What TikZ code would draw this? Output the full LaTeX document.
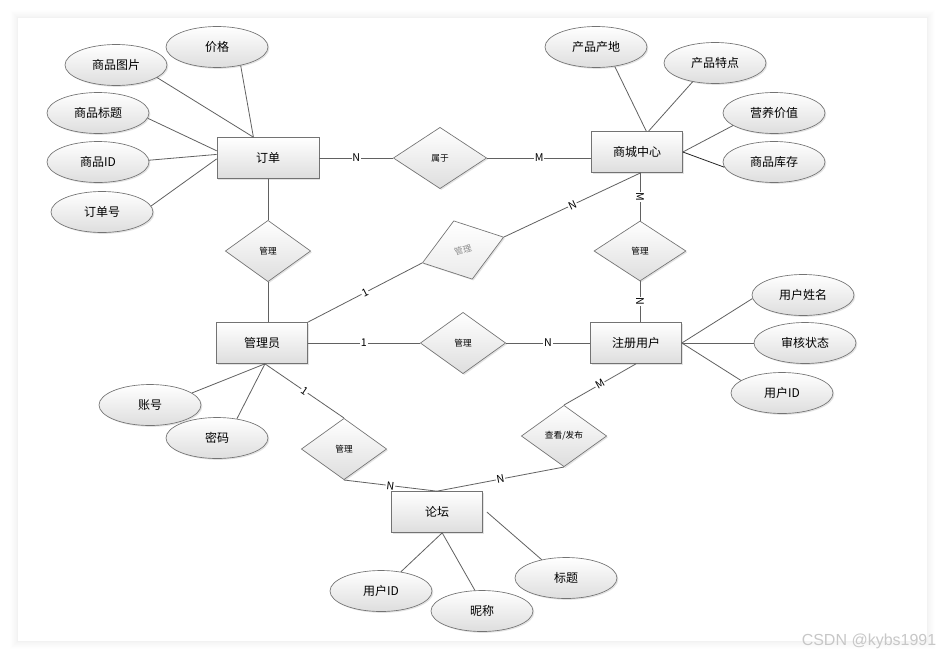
\documentclass[tikz,border=0pt]{standalone}
\usepackage{fontspec}
\setmainfont{Noto Sans CJK SC}
\newfontfamily\wmfont{Liberation Sans}
\usetikzlibrary{calc,shapes.geometric,shadows}

\begin{document}
\begin{tikzpicture}[x=0.75pt,y=-0.75pt,
  shade/.style={top color=white, bottom color=black!13, draw=black!55,
    line width=0.5pt,
    drop shadow={shadow xshift=1pt, shadow yshift=-1pt, opacity=0.22}},
  entity/.style={shade, rectangle, inner sep=0pt,
    minimum width=68.25pt, minimum height=30.75pt,
    font=\fontsize{9}{10}\selectfont},
  attr/.style={shade, ellipse, inner sep=0pt,
    minimum width=76.5pt, minimum height=30.75pt,
    font=\fontsize{9}{10}\selectfont},
  rel/.style={shade, diamond, inner sep=0pt,
    minimum width=64pt, minimum height=46pt,
    font=\fontsize{6.5}{7}\selectfont},
  link/.style={draw=black!62, line width=0.6pt},
  card/.style={fill=white, inner sep=0.6pt, sloped,
    font=\fontsize{8}{9}\selectfont}]

\useasboundingbox (0,0) rectangle (944,657);

% ------------------------------------------------------------------
% Sheet with a soft border
% ------------------------------------------------------------------
\foreach \i/\o in {1/0.05,2/0.04,3/0.033,4/0.026,5/0.02,6/0.014,7/0.009,8/0.005}{
  \draw[black, opacity=\o, line width=0.75pt]
    (18-\i,18-\i) rectangle (926+\i,640+\i);
}
\fill[white] (18,18) rectangle (926,640);

% ------------------------------------------------------------------
% Entities
% ------------------------------------------------------------------
\node[entity, minimum width=76.5pt] (order) at (268,158) {订单};
\node[entity] (mall)  at (637,152) {商城中心};
\node[entity] (admin) at (262,343) {管理员};
\node[entity] (user)  at (636,343) {注册用户};
\node[entity] (forum) at (437,512) {论坛};

% ------------------------------------------------------------------
% Relationships
% ------------------------------------------------------------------
\node[rel, minimum width=70pt] (shu) at (440,158) {属于};
\node[rel] (mg1) at (268,251) {管理};
\node[rel, rotate=17.6, bottom color=black!8, text=black!45] (mg2)
  at (463,250) {管理};
\node[rel, minimum width=69pt, minimum height=45pt] (mg3) at (640,251) {管理};
\node[rel] (mg4) at (463,343) {管理};
\node[rel] (mg5) at (344,449) {管理};
\node[rel] (pub) at (564,436) {查看/发布};

% ------------------------------------------------------------------
% Attributes: name/x/y/text
% ------------------------------------------------------------------
\foreach \n/\x/\y/\t in {price/217/47/价格, pic/116/65/商品图片,
    title/98/113/商品标题, gid/98/162/商品ID, ono/102/212/订单号,
    origin/596/47/产品产地, feat/715/63/产品特点,
    nutri/774/113/营养价值, stock/774/162/商品库存,
    uname/803/295/用户姓名, audit/805/343/审核状态, uid/782/393/用户ID,
    acc/150/405/账号, pwd/217/438/密码,
    fuid/381/591/用户ID, nick/482/611/昵称, ftitle/566/578/标题}{
  \node[attr] (\n) at (\x,\y) {\t};
}

% attribute links
\foreach \a/\b in {price.-38/order.125, pic.-17/order.125,
    title.-6/order.172, gid.2/order.176, ono.7/order.181,
    origin.-46/mall.66, feat.-140/mall.61, nutri.-163/mall.east,
    uname.184/user.east, audit.west/user.east, uid.163/user.east,
    acc.16/admin.-82, pwd.44/admin.-82,
    fuid.44/forum.-76, nick.109/forum.-76}{
  \draw[link] (\a) -- (\b);
}
\draw[link, draw=black!85] (stock.-174) -- (mall.east);
\draw[link] (ftitle.143) -- ([xshift=3pt]forum.east);

% ------------------------------------------------------------------
% Relationship links with cardinalities
% ------------------------------------------------------------------
\draw[link] (order) -- node[card] {N} (shu);
\draw[link] (shu.east) -- node[card] {M} (shu.east -| mall.west);
\draw[link] (order) -- (mg1);
\draw[link] (mg1.south) -- (mg1.south |- admin.north);
\draw[link] (admin.north east) -- node[card] {1} (mg2.west);
\draw[link] (mg2.east) -- node[card] {N} (mall.-80);
\draw[link] (mg3.north |- mall.south) -- node[card] {M} (mg3.north);
\draw[link] (mg3.south) -- node[card] {N} (mg3.south |- user.north);
\draw[link] (admin) -- node[card] {1} (mg4);
\draw[link] (mg4) -- node[card] {N} (user);
\draw[link] (admin.-82) -- node[card] {1} (mg5.north);
\draw[link] (mg5.south) -- node[card] {N} (forum.north);
\draw[link] (pub.south) -- node[card] {N} (forum.north);
\draw[link] (user.south) -- node[card] {M} (pub.north);

% watermark
\node[font=\wmfont\fontsize{12}{12}\selectfont, text=black!22] (wm)
  at (869,641) {CSDN @kybs1991};

\end{tikzpicture}
\end{document}
